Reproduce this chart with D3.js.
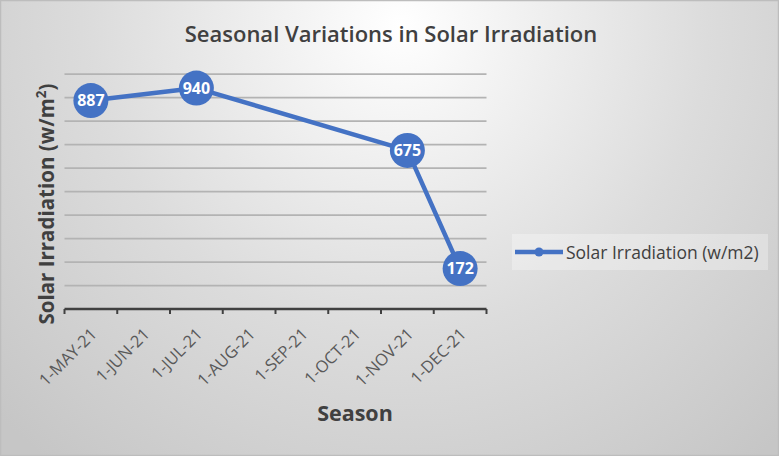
<!DOCTYPE html>
<html>
<head>
<meta charset="utf-8">
<script src="https://cdn.jsdelivr.net/npm/d3@7"></script>
<style>
  html, body { margin: 0; padding: 0; background: #fff; }
  svg { display: block; }
  text { font-family: "Open Sans", "DejaVu Sans", sans-serif; }
</style>
</head>
<body>
<svg id="chart" width="779" height="456"></svg>
<script>
// ---- data ----
const categories = ["1-MAY-21","1-JUN-21","1-JUL-21","1-AUG-21","1-SEP-21","1-OCT-21","1-NOV-21","1-DEC-21"];
const pointDates = ["1-MAY-21","1-JUL-21","1-NOV-21","1-DEC-21"];
const pointValues = [887, 940, 675, 172];
const yTicks = [0,100,200,300,400,500,600,700,800,900,1000];
const seriesName = "Solar Irradiation (w/m2)";
const chartTitle = "Seasonal Variations in Solar Irradiation";
const xTitle = "Season";

const W = 779, H = 456;
const svg = d3.select("#chart");
const defs = svg.append("defs");
const rg = defs.append("radialGradient").attr("id","bg")
  .attr("gradientUnits","userSpaceOnUse")
  .attr("cx",400).attr("cy",25).attr("r",560);
rg.append("stop").attr("offset","0").attr("stop-color","#ffffff");
rg.append("stop").attr("offset","0.55").attr("stop-color","#dcdcdc");
rg.append("stop").attr("offset","1").attr("stop-color","#c6c6c6");

svg.append("rect").attr("x",0.5).attr("y",0.5).attr("width",W-1).attr("height",H-1)
  .attr("fill","url(#bg)").attr("stroke","#bdbdbd").attr("stroke-width",1.5);

const x = d3.scaleBand().domain(categories).range([64.5, 486.5]).padding(0);
const y = d3.scaleLinear().domain([0, 1000]).range([309, 74]);

// gridlines
svg.append("g").selectAll("line").data(yTicks.filter(d => d > 0)).join("line")
  .attr("x1", 64.5).attr("x2", 486.5)
  .attr("y1", d => y(d)).attr("y2", d => y(d))
  .attr("stroke", "#b3b3b3").attr("stroke-width", 1.75);

// x axis
const xAxisG = svg.append("g").attr("transform", `translate(0,${y(0)})`);
xAxisG.append("line").attr("x1", 64.5).attr("x2", 486.5).attr("y1",0).attr("y2",0)
  .attr("stroke","#404040").attr("stroke-width",2.5);
const boundaries = categories.map(c => x(c)).concat([x.range()[1]]);
xAxisG.selectAll("line.tk").data(boundaries).join("line").attr("class","tk")
  .attr("x1", d => d).attr("x2", d => d).attr("y1", 0).attr("y2", 5)
  .attr("stroke","#404040").attr("stroke-width",2);
xAxisG.selectAll("text.lbl").data(categories).join("text").attr("class","lbl")
  .attr("transform", d => `translate(${x(d) + x.bandwidth()/2 + 3},${22}) rotate(-45)`)
  .attr("text-anchor","end")
  .attr("dy","0.35em")
  .attr("font-size", 16.5)
  .attr("fill", "#595959")
  .text(d => d);

// line
const pts = pointDates.map((d, i) => ({ cat: d, v: pointValues[i] }));
const lineGen = d3.line().x(d => x(d.cat) + x.bandwidth()/2).y(d => y(d.v));
svg.append("path").datum(pts).attr("d", lineGen)
  .attr("fill","none").attr("stroke","#4472C4").attr("stroke-width",4.5)
  .attr("stroke-linejoin","round");

const pg = svg.append("g").selectAll("g").data(pts).join("g")
  .attr("transform", d => `translate(${x(d.cat) + x.bandwidth()/2},${y(d.v)})`);
pg.append("circle").attr("r", 17.5).attr("fill","#4472C4");
pg.append("text").attr("text-anchor","middle").attr("dy","0.36em")
  .attr("font-size", 16).attr("font-weight", 700).attr("fill","#ffffff")
  .text(d => d.v);

// title
svg.append("text").attr("x", 391).attr("y", 42).attr("text-anchor","middle")
  .attr("font-size", 22).attr("font-weight", 600).attr("fill","#404040")
  .text(chartTitle);

// axis titles
svg.append("text").attr("x", 355).attr("y", 421).attr("text-anchor","middle")
  .attr("font-size", 21.5).attr("font-weight", 700).attr("fill","#404040")
  .text(xTitle);

const yt = svg.append("text")
  .attr("transform", "translate(54,204) rotate(-90)")
  .attr("text-anchor","middle")
  .attr("font-size", 20.5).attr("font-weight", 700).attr("fill","#404040");
yt.append("tspan").text("Solar Irradiation (w/m");
yt.append("tspan").attr("font-size", 13.5).attr("dy", -8).text("2");
yt.append("tspan").attr("dy", 8).text(")");

// legend
const lg = svg.append("g");
lg.append("rect").attr("x", 512).attr("y", 234).attr("width", 256).attr("height", 36)
  .attr("fill", "#ffffff").attr("fill-opacity", 0.3);
lg.append("line").attr("x1", 515).attr("x2", 563).attr("y1", 252).attr("y2", 252)
  .attr("stroke","#4472C4").attr("stroke-width",4.5);
lg.append("circle").attr("cx", 539).attr("cy", 252).attr("r", 4.5).attr("fill","#4472C4");
lg.append("text").attr("x", 566).attr("y", 258.5)
  .attr("font-size", 17.5).attr("fill","#404040")
  .text(seriesName);
</script>
</body>
</html>
